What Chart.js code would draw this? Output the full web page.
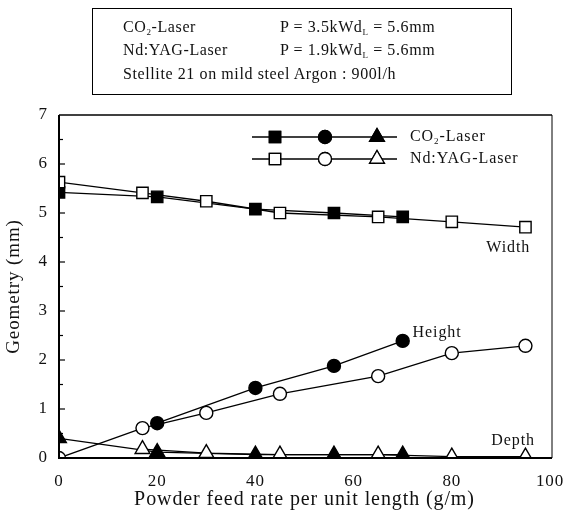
<!DOCTYPE html>
<html>
<head>
<meta charset="utf-8">
<script src="https://cdn.jsdelivr.net/npm/chart.js@4/dist/chart.umd.min.js"></script>
<style>
    body { margin: 0; background: #fff; }
    #wrap { position: relative; width: 563px; height: 513px; }
    #infoBox {
        position: absolute; left: 92px; top: 8px; width: 420px; height: 87px;
        border: 1.5px solid #000; box-sizing: border-box;
        font-family: 'Liberation Serif', serif; font-size: 16px; color: #111;
        letter-spacing: 0.6px;
    }
    #infoBox div { position: absolute; white-space: nowrap; }
    sub { font-size: 9px; vertical-align: -3px; }
</style>
</head>
<body>
<div id="wrap">
    <canvas id="geomChart"></canvas>
    <div id="infoBox">
        <div style="left:30px; top:9px;">CO<sub>2</sub>-Laser</div>
        <div style="left:187px; top:9px;">P = 3.5kWd<sub>L</sub> = 5.6mm</div>
        <div style="left:30px; top:32px;">Nd:YAG-Laser</div>
        <div style="left:187px; top:32px;">P = 1.9kWd<sub>L</sub> = 5.6mm</div>
        <div style="left:30px; top:56px;">Stellite 21 on mild steel Argon : 900l/h</div>
    </div>
</div>
<script>
// Data
const co2X = [0, 20, 40, 56, 70];
const co2Width = [5.42, 5.33, 5.08, 5.0, 4.92];
const co2HeightX = [20, 40, 56, 70];
const co2Height = [0.71, 1.43, 1.88, 2.39];
const co2Depth = [0.4, 0.12, 0.07, 0.07, 0.07];

const yagX = [0, 17, 30, 45, 65, 80, 95];
const yagWidth = [5.63, 5.41, 5.24, 5.0, 4.92, 4.82, 4.71];
const yagHeight = [0, 0.61, 0.92, 1.31, 1.67, 2.14, 2.29];
const yagDepthX = [17, 30, 45, 65, 80, 95];
const yagDepth = [0.18, 0.1, 0.07, 0.07, 0.03, 0.03];

const xTicks = [0, 20, 40, 60, 80, 100];
const yTicks = [0, 1, 2, 3, 4, 5, 6, 7];

const FONT = "'Liberation Serif', serif";
const RADIUS = { rect: 8, circle: 6.5, triangle: 8.5 };

function pts(xs, ys) {
    return xs.map((x, i) => ({ x: x, y: ys[i] }));
}

function series(xs, ys, style, filled) {
    return {
        data: pts(xs, ys),
        showLine: true,
        borderColor: '#000',
        borderWidth: 1.3,
        pointStyle: style,
        pointRadius: RADIUS[style],
        pointBorderWidth: 1.4,
        pointBorderColor: '#000',
        pointBackgroundColor: filled ? '#000' : '#fff',
        tension: 0
    };
}

// Wider text spacing like the original print
const spacingPlugin = {
    id: 'spacing',
    beforeDraw(chart) {
        chart.ctx.letterSpacing = '0.9px';
    }
};

// Frame, inner ticks, legend and curve labels
const decorPlugin = {
    id: 'decor',
    afterDraw(chart) {
        const ctx = chart.ctx;
        const a = chart.chartArea;
        const ys = chart.scales.y;
        const xs = chart.scales.x;
        ctx.save();
        ctx.strokeStyle = '#000';

        // thin top and right border
        ctx.lineWidth = 1.5;
        ctx.beginPath();
        ctx.moveTo(a.left, a.top);
        ctx.lineTo(a.right + 2, a.top);
        ctx.stroke();
        ctx.lineWidth = 1;
        ctx.beginPath();
        ctx.moveTo(a.right + 2, a.top);
        ctx.lineTo(a.right + 2, a.bottom);
        ctx.stroke();

        // thick left and bottom axes
        ctx.lineWidth = 2;
        ctx.beginPath();
        ctx.moveTo(a.left, a.top);
        ctx.lineTo(a.left, a.bottom);
        ctx.lineTo(a.right + 2, a.bottom);
        ctx.stroke();

        // inward y ticks, major and half
        ctx.lineWidth = 1.2;
        for (let v = 0.5; v < 7; v += 0.5) {
            const py = ys.getPixelForValue(v);
            const len = Number.isInteger(v) ? 6 : 4;
            ctx.beginPath();
            ctx.moveTo(a.left, py);
            ctx.lineTo(a.left + len, py);
            ctx.stroke();
        }

        // legend
        const rows = [
            { label: 'CO', sub: '2', rest: '-Laser', fill: '#000', y: 137 },
            { label: 'Nd:YAG-Laser', sub: '', rest: '', fill: '#fff', y: 159 }
        ];
        rows.forEach(r => {
            ctx.lineWidth = 1.3;
            ctx.beginPath();
            ctx.moveTo(252, r.y);
            ctx.lineTo(397, r.y);
            ctx.stroke();
            ctx.fillStyle = r.fill;
            const opts = { borderWidth: 1.4, rotation: 0 };
            [['rect', 275], ['circle', 325], ['triangle', 377]].forEach(m => {
                Chart.helpers.drawPoint(ctx, Object.assign({ pointStyle: m[0], radius: RADIUS[m[0]] }, opts), m[1], r.y);
                ctx.fill();
                ctx.stroke();
            });
            ctx.fillStyle = '#111';
            ctx.font = '16px ' + FONT;
            ctx.textBaseline = 'middle';
            ctx.textAlign = 'left';
            let tx = 410;
            ctx.fillText(r.label, tx, r.y);
            if (r.sub) {
                tx += ctx.measureText(r.label).width;
                ctx.font = '9px ' + FONT;
                ctx.fillText(r.sub, tx, r.y + 5);
                tx += ctx.measureText(r.sub).width;
                ctx.font = '16px ' + FONT;
                ctx.fillText(r.rest, tx, r.y);
            }
        });

        // curve labels
        ctx.font = '16px ' + FONT;
        ctx.textAlign = 'center';
        ctx.fillText('Width', xs.getPixelForValue(91.5), ys.getPixelForValue(4.3));
        ctx.fillText('Height', xs.getPixelForValue(77), ys.getPixelForValue(2.55));
        ctx.fillText('Depth', xs.getPixelForValue(92.5), ys.getPixelForValue(0.35));
        ctx.restore();
    }
};

const chart = new Chart(document.getElementById('geomChart'), {
    type: 'scatter',
    data: {
        datasets: [
            series(yagX, yagWidth, 'rect', false),
            series(yagX, yagHeight, 'circle', false),
            series(yagDepthX, yagDepth, 'triangle', false),
            series(co2X, co2Width, 'rect', true),
            series(co2HeightX, co2Height, 'circle', true),
            series(co2X, co2Depth, 'triangle', true)
        ]
    },
    options: {
        responsive: true,
        maintainAspectRatio: false,
        animation: false,
        layout: { padding: { top: 115, right: 0, left: 0, bottom: 0 } },
        plugins: {
            legend: { display: false },
            tooltip: { enabled: false }
        },
        scales: {
            x: {
                type: 'linear',
                min: 0,
                max: 100,
                afterBuildTicks: s => { s.ticks = xTicks.map(v => ({ value: v })); },
                afterFit: s => {
                    s.height = 55;
                    s.paddingLeft = 0;
                    s.paddingRight = 13;
                },
                grid: { display: false, drawTicks: false },
                border: { display: false },
                ticks: { color: '#111', padding: 13, font: { family: FONT, size: 17 } },
                title: {
                    display: true,
                    text: 'Powder feed rate per unit length (g/m)',
                    color: '#111',
                    padding: { top: 0, bottom: 1 },
                    font: { family: FONT, size: 20 }
                }
            },
            y: {
                min: 0,
                max: 7,
                afterBuildTicks: s => { s.ticks = yTicks.map(v => ({ value: v })); },
                afterFit: s => { s.width = 59; },
                grid: { display: false, drawTicks: false },
                border: { display: false },
                ticks: { color: '#111', padding: 11, font: { family: FONT, size: 17 } },
                title: {
                    display: true,
                    text: 'Geometry (mm)',
                    color: '#111',
                    padding: { top: 3, bottom: 0 },
                    font: { family: FONT, size: 19 }
                }
            }
        }
    },
    plugins: [spacingPlugin, decorPlugin]
});
</script>
</body>
</html>
